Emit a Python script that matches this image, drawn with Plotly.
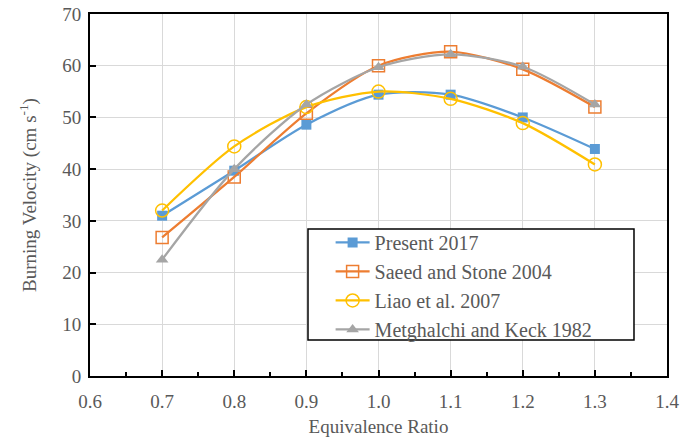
import plotly.graph_objects as go

phi = [0.7, 0.8, 0.9, 1.0, 1.1, 1.2, 1.3]
present_2017 = [31.0, 39.7, 48.6, 54.4, 54.4, 50.0, 43.9]
saeed_stone_2004 = [26.8, 38.5, 50.8, 60.0, 62.7, 59.3, 52.0]
liao_2007 = [32.0, 44.4, 52.0, 55.0, 53.6, 48.9, 40.9]
metghalchi_keck_1982 = [22.5, 40.0, 52.5, 59.7, 62.2, 59.8, 52.5]

FONT = "Liberation Serif, Times New Roman, serif"
GREY_TXT = "#595959"
FS = 19
FS_LEG = 20

fig = go.Figure()

series = [
    ("Present 2017", present_2017, "#5B9BD5", dict(symbol="square", size=10, color="#5B9BD5")),
    ("Saeed and Stone 2004", saeed_stone_2004, "#ED7D31",
     dict(symbol="square-open", size=12, color="#ED7D31", line=dict(width=1.5, color="#ED7D31"))),
    ("Liao et al. 2007", liao_2007, "#FFC000",
     dict(symbol="circle-open", size=13, color="#FFC000", line=dict(width=1.5, color="#FFC000"))),
    ("Metghalchi and Keck 1982", metghalchi_keck_1982, "#A5A5A5",
     dict(symbol="triangle-up", size=11, color="#A5A5A5")),
]

for name, vals, col, mk in series:
    fig.add_trace(go.Scatter(
        x=phi, y=vals, name=name, mode="lines+markers",
        line=dict(color=col, width=2.25, shape="spline", smoothing=0.8),
        marker=mk,
    ))

# legend frame (drawn as a shape so the inner padding matches the original)
fig.add_shape(
    type="rect", xref="paper", yref="paper",
    x0=0.3778, x1=0.9428, y0=0.0994, y1=0.4061,
    line=dict(color="black", width=1.5), fillcolor="white", layer="above",
)

fig.update_layout(
    width=683, height=445,
    margin=dict(l=90, r=16, t=14, b=69),
    paper_bgcolor="white", plot_bgcolor="white",
    font=dict(family=FONT, size=FS, color=GREY_TXT),
    showlegend=True,
    legend=dict(
        x=0.417, y=0.4227, xanchor="left", yanchor="top",
        bgcolor="rgba(0,0,0,0)", borderwidth=0,
        font=dict(family=FONT, size=FS_LEG, color=GREY_TXT),
        tracegroupgap=0, itemwidth=34,
    ),
)

fig.update_xaxes(
    range=[0.6, 1.4], dtick=0.1, tick0=0.6, tickformat=".1f",
    showgrid=True, gridcolor="#D9D9D9", gridwidth=1,
    showline=True, linecolor="black", linewidth=2, mirror=True,
    ticks="inside", ticklen=6, tickcolor="black", tickwidth=1.5,
    minor=dict(dtick=0.05, ticks="inside", ticklen=4, tickcolor="black", tickwidth=1.5, showgrid=False),
    zeroline=False, automargin=False, ticklabelstandoff=7,
    title=dict(text="Equivalence Ratio", font=dict(family=FONT, size=FS, color=GREY_TXT), standoff=9),
    tickfont=dict(family=FONT, size=FS, color=GREY_TXT),
)
fig.update_yaxes(
    range=[0, 70], dtick=10,
    showgrid=True, gridcolor="#D9D9D9", gridwidth=1,
    showline=True, linecolor="black", linewidth=2, mirror=True,
    ticks="inside", ticklen=6, tickcolor="black", tickwidth=1.5,
    zeroline=False, automargin=False, ticklabelstandoff=3,
    title=dict(text="Burning Velocity (cm s<sup>-1</sup>)", font=dict(family=FONT, size=FS, color=GREY_TXT), standoff=21),
    tickfont=dict(family=FONT, size=FS, color=GREY_TXT),
)

fig.write_html("out.html", config={"displayModeBar": False},
               post_script="document.body.style.margin='0';")
